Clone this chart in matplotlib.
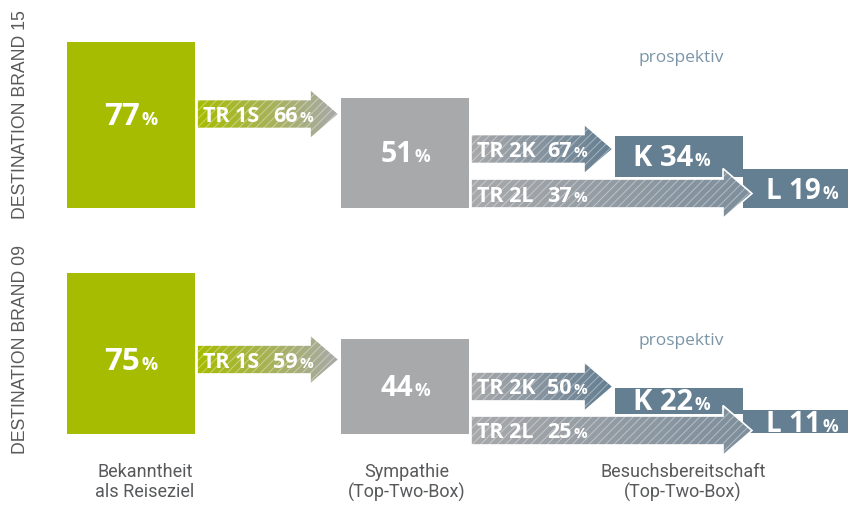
import numpy as np
import matplotlib
matplotlib.use("Agg")
import matplotlib.pyplot as plt
from matplotlib.patches import Rectangle, Polygon
from matplotlib.colors import to_rgb

# data
brands = ["DESTINATION BRAND 15", "DESTINATION BRAND 09"]
bekanntheit = [77, 75]
sympathie = [51, 44]
tr_1s = [66, 59]
tr_2k = [67, 50]
tr_2l = [37, 25]
besuch_k = [34, 22]
besuch_l = [19, 11]
stage_labels = ["Bekanntheit\nals Reiseziel", "Sympathie\n(Top-Two-Box)", "Besuchsbereitschaft\n(Top-Two-Box)"]
note = "prospektiv"

# colours
GREEN = "#a6bc00"
GRAY = "#a8a9ab"
SLATE = "#647e92"
TXT = "#58595b"
NOTE = "#7b95a7"

# layout (pixel coordinates, y down)
rows = [
    dict(base=208, y1s=114, y2k=149, y2l=193.5, k_bot=177, l_bot=208, brand_y=115, note_y=62),
    dict(base=434, y1s=359.5, y2k=386.5, y2l=430.5, k_bot=414, l_bot=433, brand_y=350, note_y=345),
]
BOX_SCALE = 2.15   # px per %
K_SCALE = 1.2
L_SCALE = 2.05

plt.rcParams["hatch.linewidth"] = 0.7

fig = plt.figure(figsize=(8.48, 5.07), dpi=100)
ax = fig.add_axes([0, 0, 1, 1])
ax.set_xlim(0, 848)
ax.set_ylim(507, 0)
ax.axis("off")
renderer = fig.canvas.get_renderer()

BOLD = dict(family=["Open Sans", "DejaVu Sans"], weight="bold", color="white")


def num_pct(x, y, prefix, num, size, psize, center=True, gap=1.5):
    t1 = ax.text(0, y, prefix + str(num), fontsize=size, va="baseline", ha="left", zorder=6, **BOLD)
    t2 = ax.text(0, y, "%", fontsize=psize, va="baseline", ha="left", zorder=6, **BOLD)
    w1 = t1.get_window_extent(renderer).width
    w2 = t2.get_window_extent(renderer).width
    start = x - (w1 + gap + w2) / 2 if center else x
    t1.set_x(start)
    t2.set_x(start + w1 + gap)


def arrow(x0, tip, yc, c0, c1, h=14.5, H=25, hl=29):
    pts = [(x0, yc - h), (tip - hl, yc - h), (tip - hl, yc - H), (tip, yc),
           (tip - hl, yc + H), (tip - hl, yc + h), (x0, yc + h)]
    clip = Polygon(pts, closed=True, facecolor="none", edgecolor="none")
    ax.add_patch(clip)
    t = np.linspace(0, 1, 200)[:, None]
    grad = (1 - t) * np.array(to_rgb(c0)) + t * np.array(to_rgb(c1))
    im = ax.imshow(grad[None, :, :], extent=(x0, tip, yc + H, yc - H), aspect="auto",
                   interpolation="bilinear", zorder=3)
    im.set_clip_path(clip)
    ax.add_patch(Polygon(pts, closed=True, facecolor="none", edgecolor=(1, 1, 1, 0.4),
                         linewidth=0, hatch="////", zorder=4))
    ax.add_patch(Polygon(pts, closed=True, facecolor="none", edgecolor="white",
                         linewidth=1.2, zorder=4))


for i, r in enumerate(rows):
    base = r["base"]
    # Bekanntheit box
    h = bekanntheit[i] * BOX_SCALE
    ax.add_patch(Rectangle((67, base - h), 128, h, facecolor=GREEN, edgecolor="none", zorder=1))
    num_pct(131, r["y1s"] + 11, "", bekanntheit[i], 22.5, 13)
    # Sympathie box
    h2 = sympathie[i] * BOX_SCALE
    ax.add_patch(Rectangle((341, base - h2), 128, h2, facecolor=GRAY, edgecolor="none", zorder=1))
    num_pct(405, base - h2 / 2 + 9, "", sympathie[i], 20.5, 12.5)
    # K and L boxes
    hk = besuch_k[i] * K_SCALE
    ax.add_patch(Rectangle((615, r["k_bot"] - hk), 128, hk, facecolor=SLATE, edgecolor="none", zorder=1))
    num_pct(633, r["k_bot"] - hk / 2 + 9.5, "K ", besuch_k[i], 21, 12.5, center=False)
    hl_ = besuch_l[i] * L_SCALE
    ax.add_patch(Rectangle((743, r["l_bot"] - hl_), 120, hl_, facecolor=SLATE, edgecolor="none", zorder=1))
    num_pct(766, r["l_bot"] - hl_ / 2 + 10, "L ", besuch_l[i], 20, 12.5, center=False)

    # transition arrows
    arrow(197, 339, r["y1s"], GREEN, GRAY)
    arrow(471, 613, r["y2k"], GRAY, SLATE)
    arrow(471, 752, r["y2l"], GRAY, "#7d8e9c")
    for x0, yc, lab, v in [(197, r["y1s"], "TR 1S", tr_1s[i]),
                           (471, r["y2k"], "TR 2K", tr_2k[i]),
                           (471, r["y2l"], "TR 2L", tr_2l[i])]:
        ax.text(x0 + 6, yc + 8, lab, fontsize=15.5, va="baseline", ha="left", zorder=6, **BOLD)
        num_pct(x0 + 76, yc + 8, "", v, 15.5, 11, center=False)

    ax.text(681, r["note_y"], note, fontsize=12.5, color=NOTE, ha="center", va="baseline",
            family=["Open Sans", "DejaVu Sans"])
    ax.text(21, r["brand_y"], brands[i], fontsize=12.7, color=TXT, rotation=90,
            ha="center", va="center", family=["Liberation Sans", "DejaVu Sans"])

for x, lab in zip([145, 407, 683], stage_labels):
    ax.text(x, 463, lab, fontsize=13, color=TXT, ha="center", va="top", linespacing=1.15,
            family=["Liberation Sans Narrow", "Roboto", "DejaVu Sans"])

fig.savefig("out.png", dpi=100)
